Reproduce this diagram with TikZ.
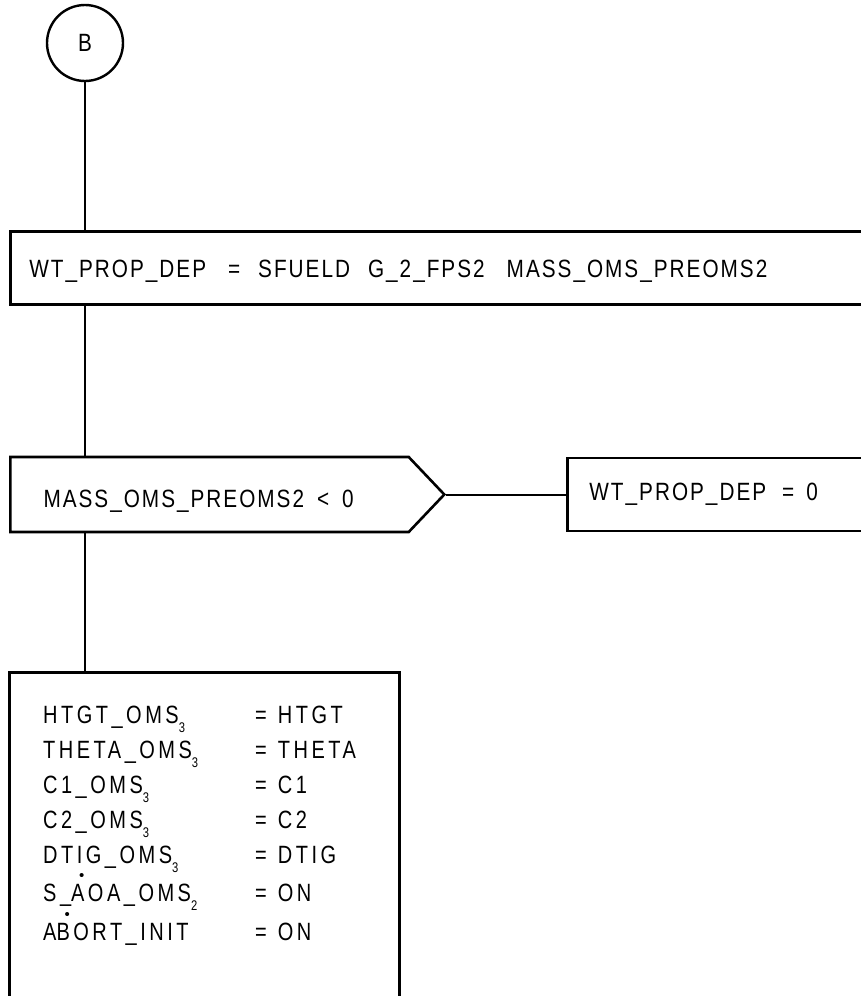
\documentclass[tikz,border=0pt]{standalone}
\usepackage{fontspec}
\usetikzlibrary{positioning,shapes.symbols}
\newfontfamily\flowfont{Liberation Sans}[FakeStretch=0.83,LetterSpace=8]
\newfontfamily\regfont{Liberation Sans}[FakeStretch=0.8,LetterSpace=14]
\newfontfamily\dotfont{Liberation Sans}
\newcommand{\subidx}[1]{\raisebox{-9pt}{\fontsize{14}{14}\selectfont #1}}
\newcommand{\dotch}[2][0pt]{\leavevmode\rlap{\kern#1\raisebox{21pt}{\dotfont\fontsize{15}{15}\selectfont\textbullet}}#2}

\begin{document}
\begin{tikzpicture}[x=1pt, y=-1pt,
  pg/.style={draw, circle, line width=2.4pt, minimum size=76pt, inner sep=0pt,
             font=\flowfont\fontsize{25}{30}\selectfont},
  act/.style={draw, rectangle, line width=2.6pt, align=left, inner ysep=0pt,
              font=\flowfont\fontsize{25}{30}\selectfont},
  dec/.style={draw, signal, signal to=east, signal pointer angle=93,
              line width=2.6pt, align=left, inner ysep=0pt,
              font=\flowfont\fontsize{25}{30}\selectfont},
  ln/.style={line width=2pt}]
\useasboundingbox (0,0) rectangle (861,996);
\node[pg] (circB) at (85,43) {B};
\node[act, anchor=north west, minimum height=73pt, text width=860pt, inner xsep=19pt,
      text height=20pt, text depth=0pt] (wtbox) at (9,230)
  {WT\_PROP\_DEP\hspace{22pt}=\hspace{18pt}SFUELD\hspace{18pt}G\_2\_FPS2\hspace{22pt}MASS\_OMS\_PREOMS2};
\node[dec, anchor=west, minimum width=434pt, minimum height=75pt, text width=332pt,
      inner xsep=33pt, text height=26pt, text depth=0pt] (cond) at (9,494.5)
  {MASS\_OMS\_PREOMS2\hspace{13pt}<\hspace{13pt}0};
\node[act, right=120pt of cond.east, anchor=west, minimum height=73pt, text width=320pt,
      inner xsep=22pt, text height=18pt, text depth=6pt] (wtzero)
  {WT\_PROP\_DEP\hspace{16pt}=\hspace{12pt}0};
\node[act, anchor=north west, minimum width=390pt, minimum height=340pt] (regs) at (8,671) {};
\node[anchor=base west, inner sep=0pt, font=\regfont\fontsize{25}{35}\selectfont]
  (tbl) at ([xshift=35pt, yshift=-52pt]regs.north west)
  {\begin{tabular}[t]{@{}p{212pt}@{}l@{}}
   HTGT\_OMS\subidx{3} & =\hspace{11pt}HTGT\\
   THETA\_OMS\subidx{3} & =\hspace{11pt}THETA\\
   C1\_OMS\subidx{3} & =\hspace{11pt}C1\\
   C2\_OMS\subidx{3} & =\hspace{11pt}C2\\
   DTIG\_OMS\subidx{3} & =\hspace{11pt}DTIG\\
   S\_\dotch[8pt]{A}OA\_OMS\subidx{2} & =\hspace{11pt}ON\\
   A\dotch[8pt]{B}ORT\_INIT & =\hspace{11pt}ON
   \end{tabular}};
% flow lines
\draw[ln] (circB.south) -- (circB.south |- wtbox.north);
\draw[ln] (circB.south |- wtbox.south) -- (circB.south |- cond.north);
\draw[ln] (cond.east) -- (wtzero.west);
\draw[ln] (circB.south |- cond.south) -- (circB.south |- regs.north);
\end{tikzpicture}
\end{document}
